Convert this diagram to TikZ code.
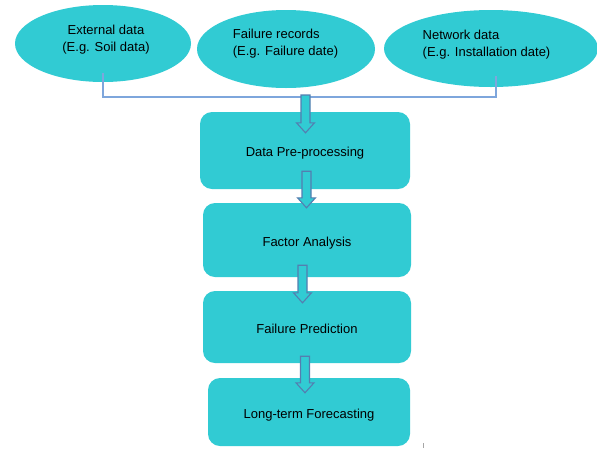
\documentclass[tikz,border=0pt]{standalone}
\usepackage{fontspec}
\setmainfont{Liberation Sans}
\usetikzlibrary{shapes.geometric,calc}
\definecolor{teal1}{RGB}{49,203,211}
\definecolor{busblue}{RGB}{126,166,220}
\definecolor{arrowedge}{RGB}{84,126,176}
\tikzset{
 src/.style={ellipse, fill=teal1, draw=none, inner sep=0pt},
 srctext/.style={align=left, inner sep=0pt, font=\fontsize{13}{16.5}\selectfont},
 stage/.style={rectangle, rounded corners=12pt, fill=teal1, draw=none, inner sep=0pt, text height=12pt, text depth=0pt, font=\fontsize{13}{16}\selectfont},
 bus/.style={draw=busblue, line width=1.5pt},
 fatarrow/.style={fill=teal1, draw=arrowedge, line width=1.1pt, line join=miter},
}
\newcommand\blockarrowdown[2]{%
 \draw[fatarrow] let \p1=#1, \p2=#2 in (\x1-4.5pt,\y1) -- (\x1+4.5pt,\y1) -- (\x1+4.5pt,\y2+10pt) -- (\x1+9pt,\y2+10pt) -- (\x1,\y2) -- (\x1-9pt,\y2+10pt) -- (\x1-4.5pt,\y2+10pt) -- cycle;}
\begin{document}
\begin{tikzpicture}[x=1pt,y=-1pt]
\fill[white] (0,0) rectangle (597,448);
\useasboundingbox (0,0) rectangle (597,448);
% source ellipses
\node[src, minimum width=176pt, minimum height=77pt] (e1) at (103,43.5) {};
\node[src, minimum width=178pt, minimum height=78pt] (e2) at (286,49) {};
\node[src, minimum width=214pt, minimum height=77pt] (e3) at (491,48.5) {};
\node[srctext, align=center] (t1) at (106,39.5) {External data\\(E.g. Soil data)};
\node[srctext] (t2) at (285.5,43.5) {Failure records\\(E.g. Failure date)};
\node[srctext] (t3) at (486.5,44.5) {Network data\\(E.g. Installation date)};
% stages
\node[stage, minimum width=210pt, minimum height=77pt] (b1) at (305,150.5) {Data Pre-processing};
\node[stage, minimum width=208pt, minimum height=74pt] (b2) at (307,240) {Factor Analysis};
\node[stage, minimum width=208pt, minimum height=72pt] (b3) at (307,327) {Failure Prediction};
\node[stage, minimum width=202pt, minimum height=68pt] (b4) at (309,412) {Long-term Forecasting};
% bus line
\coordinate (bus) at (305.5,97);
\draw[bus] ($(e1.south)+(0,-9)$) |- (bus) -| ($(e3.south)+(5,-11)$);
% block arrows
\blockarrowdown{($(bus)+(0,-2)$)}{($(b1.north)+(0.5,21)$)}
\blockarrowdown{($(b1.south)+(1.5,-18)$)}{($(b2.north)+(0,5)$)}
\blockarrowdown{($(b2.south)+(-4.5,-12)$)}{($(b3.north)+(0,12)$)}
\blockarrowdown{($(b3.south)+(-2,-7)$)}{($(b4.north)+(0,15)$)}
% small tick
\draw[gray!70, line width=1pt] (423,443) -- (423,448);
\end{tikzpicture}
\end{document}
